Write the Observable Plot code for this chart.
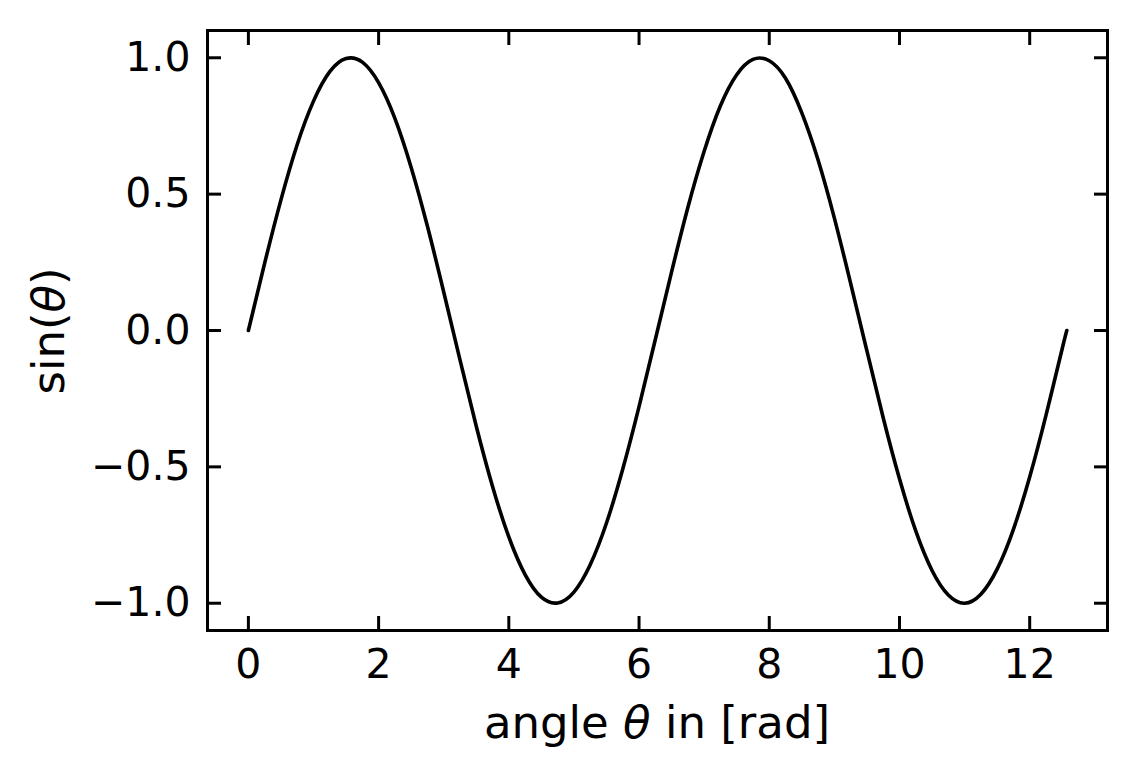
<!DOCTYPE html>
<html>
<head>
<meta charset="utf-8">
<script src="https://cdn.jsdelivr.net/npm/d3@7"></script>
<script src="https://cdn.jsdelivr.net/npm/@observablehq/plot@0.6"></script>
<style>
  html, body { margin: 0; padding: 0; background: white; }
  #chart svg { display: block; }
</style>
</head>
<body>
<div id="chart"></div>
<script>
const theta = [0, 0.25, 0.5, 0.75, 1.0, 1.25, 1.5, 1.75, 2.0, 2.25, 2.5, 2.75, 3.0,
  3.25, 3.5, 3.75, 4.0, 4.25, 4.5, 4.75, 5.0, 5.25, 5.5, 5.75, 6.0, 6.25, 6.5, 6.75,
  7.0, 7.25, 7.5, 7.75, 8.0, 8.25, 8.5, 8.75, 9.0, 9.25, 9.5, 9.75, 10.0, 10.25,
  10.5, 10.75, 11.0, 11.25, 11.5, 11.75, 12.0, 12.25, 12.5, 12.57];
const sinTheta = [0.000, 0.247, 0.479, 0.682, 0.841, 0.949, 0.997, 0.984, 0.909, 0.778, 0.598, 0.382, 0.141,
  -0.108, -0.351, -0.572, -0.757, -0.895, -0.978, -0.999, -0.959, -0.859, -0.706, -0.508, -0.279, -0.033, 0.215, 0.451,
  0.657, 0.824, 0.938, 0.994, 0.989, 0.925, 0.798, 0.625, 0.412, 0.173, -0.075, -0.320, -0.544, -0.735,
  -0.880, -0.970, -1.000, -0.967, -0.875, -0.729, -0.537, -0.311, -0.066, 0.000];

const xTicks = [0, 2, 4, 6, 8, 10, 12];
const yTicks = [-1.0, -0.5, 0.0, 0.5, 1.0];
const xDomain = [-0.628, 13.195];
const yDomain = [-1.1, 1.1];
const xLabelParts = ["angle ", "θ", " in [rad]"];
const yLabelParts = ["sin(", "θ", ")"];

const fmtY = d3.format(".1f");
const blank = () => "";

const plot = Plot.plot({
  width: 1137,
  height: 782,
  marginLeft: 207,
  marginRight: 30,
  marginTop: 30,
  marginBottom: 152,
  style: { fontFamily: "DejaVu Sans", fontSize: "41px", background: "white", color: "black" },
  x: { domain: xDomain },
  y: { domain: yDomain },
  marks: [
    // labels
    Plot.axisX(xTicks, { anchor: "bottom", tickSize: 0, tickPadding: 18, label: null, tickFormat: d => String(d) }),
    Plot.axisY(yTicks, { anchor: "left", tickSize: 0, tickPadding: 17, label: null, tickFormat: fmtY }),
    // inward ticks on all four sides
    Plot.axisX(xTicks, { anchor: "bottom", tickSize: -14, strokeWidth: 3, label: null, tickFormat: blank }),
    Plot.axisX(xTicks, { anchor: "top", tickSize: -14, strokeWidth: 3, label: null, tickFormat: blank }),
    Plot.axisY(yTicks, { anchor: "left", tickSize: -14, strokeWidth: 3, label: null, tickFormat: blank }),
    Plot.axisY(yTicks, { anchor: "right", tickSize: -14, strokeWidth: 3, label: null, tickFormat: blank }),
    Plot.line(theta, { x: theta, y: sinTheta, stroke: "black", strokeWidth: 3.6, curve: "natural" }),
    Plot.frame({ stroke: "black", strokeWidth: 3 })
  ]
});

// axis titles with italic θ
const ns = "http://www.w3.org/2000/svg";
function addLabel(parts, x, y, rotate) {
  const t = document.createElementNS(ns, "text");
  t.setAttribute("text-anchor", "middle");
  t.setAttribute("font-family", "DejaVu Sans");
  t.setAttribute("font-size", "45");
  t.setAttribute("fill", "black");
  t.setAttribute("transform", `translate(${x},${y})` + (rotate ? " rotate(-90)" : ""));
  parts.forEach((p, i) => {
    const s = document.createElementNS(ns, "tspan");
    s.textContent = p;
    if (i === 1) s.setAttribute("font-style", "italic");
    t.appendChild(s);
  });
  t.setAttribute("style", "white-space: pre");
  plot.appendChild(t);
}
addLabel(xLabelParts, 657, 738, false);
addLabel(yLabelParts, 64, 331, true);

document.getElementById("chart").appendChild(plot);
</script>
</body>
</html>
